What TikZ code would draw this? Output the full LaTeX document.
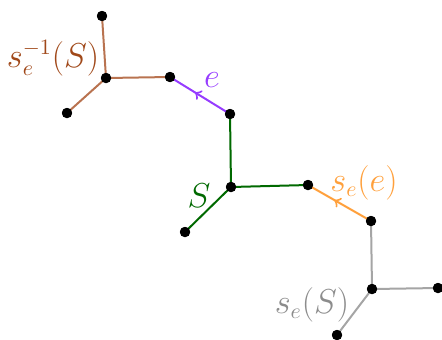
\documentclass[tikz,border=0pt]{standalone}
\usetikzlibrary{decorations.markings}
\definecolor{brEdge}{RGB}{185,115,80}
\definecolor{brText}{RGB}{160,72,25}
\definecolor{pur}{RGB}{150,60,255}
\definecolor{orng}{RGB}{255,160,60}
\definecolor{dgreen}{RGB}{0,105,0}
\definecolor{gEdge}{RGB}{165,165,165}
\definecolor{gText}{RGB}{140,140,140}
\tikzset{
  dot/.style={circle,fill=black,inner sep=0pt,minimum size=5pt},
  edge/.style={line width=1pt},
  midarrow/.style={postaction={decorate},decoration={markings,mark=at position 0.5 with {\arrow{<}}}},
  lbl/.style={font=\fontsize{16}{19}\selectfont,inner sep=0pt}
}
\begin{document}
\begin{tikzpicture}[x=0.5pt,y=-0.5pt,>=to]
\useasboundingbox (0,0) rectangle (442,339);
% top tree
\node[dot] (a1) at (102,16) {};
\node[dot] (a0) at (106,78) {};
\node[dot] (a2) at (67,113) {};
\node[dot] (a3) at (170,77) {};
% green
\node[dot] (b1) at (230,114) {};
\node[dot] (b0) at (231,187) {};
\node[dot] (b2) at (185,232) {};
\node[dot] (b3) at (308,185) {};
% grey
\node[dot] (c1) at (371,221) {};
\node[dot] (c0) at (372,289) {};
\node[dot] (c3) at (438,288) {};
\node[dot] (c2) at (337,335) {};
\begin{scope}[on background layer/.try]
\end{scope}
\draw[edge,brEdge] (a0.center) -- (a1.center) (a0.center) -- (a2.center) (a0.center) -- (a3.center);
\draw[edge,pur,midarrow] (a3.center) -- (b1.center);
\draw[edge,dgreen] (b0.center) -- (b1.center) (b0.center) -- (b2.center) (b0.center) -- (b3.center);
\draw[edge,orng,midarrow] (b3.center) -- (c1.center);
\draw[edge,gEdge] (c0.center) -- (c1.center) (c0.center) -- (c2.center) (c0.center) -- (c3.center);
% redraw dots on top
\foreach \n in {a0,a1,a2,a3,b0,b1,b2,b3,c0,c1,c2,c3} \fill (\n) circle (2.6pt);
\node[lbl,text=brText] (la) at (53,58) {$s_e^{-1}(S)$};
\node[lbl,text=pur] (le) at (212,80) {$e$};
\node[lbl,text=dgreen] (lS) at (199,196) {$S$};
\node[lbl,text=orng] (lse) at (364,183) {$s_e(e)$};
\node[lbl,text=gText] (lsS) at (312,305) {$s_e(S)$};
\end{tikzpicture}
\end{document}
